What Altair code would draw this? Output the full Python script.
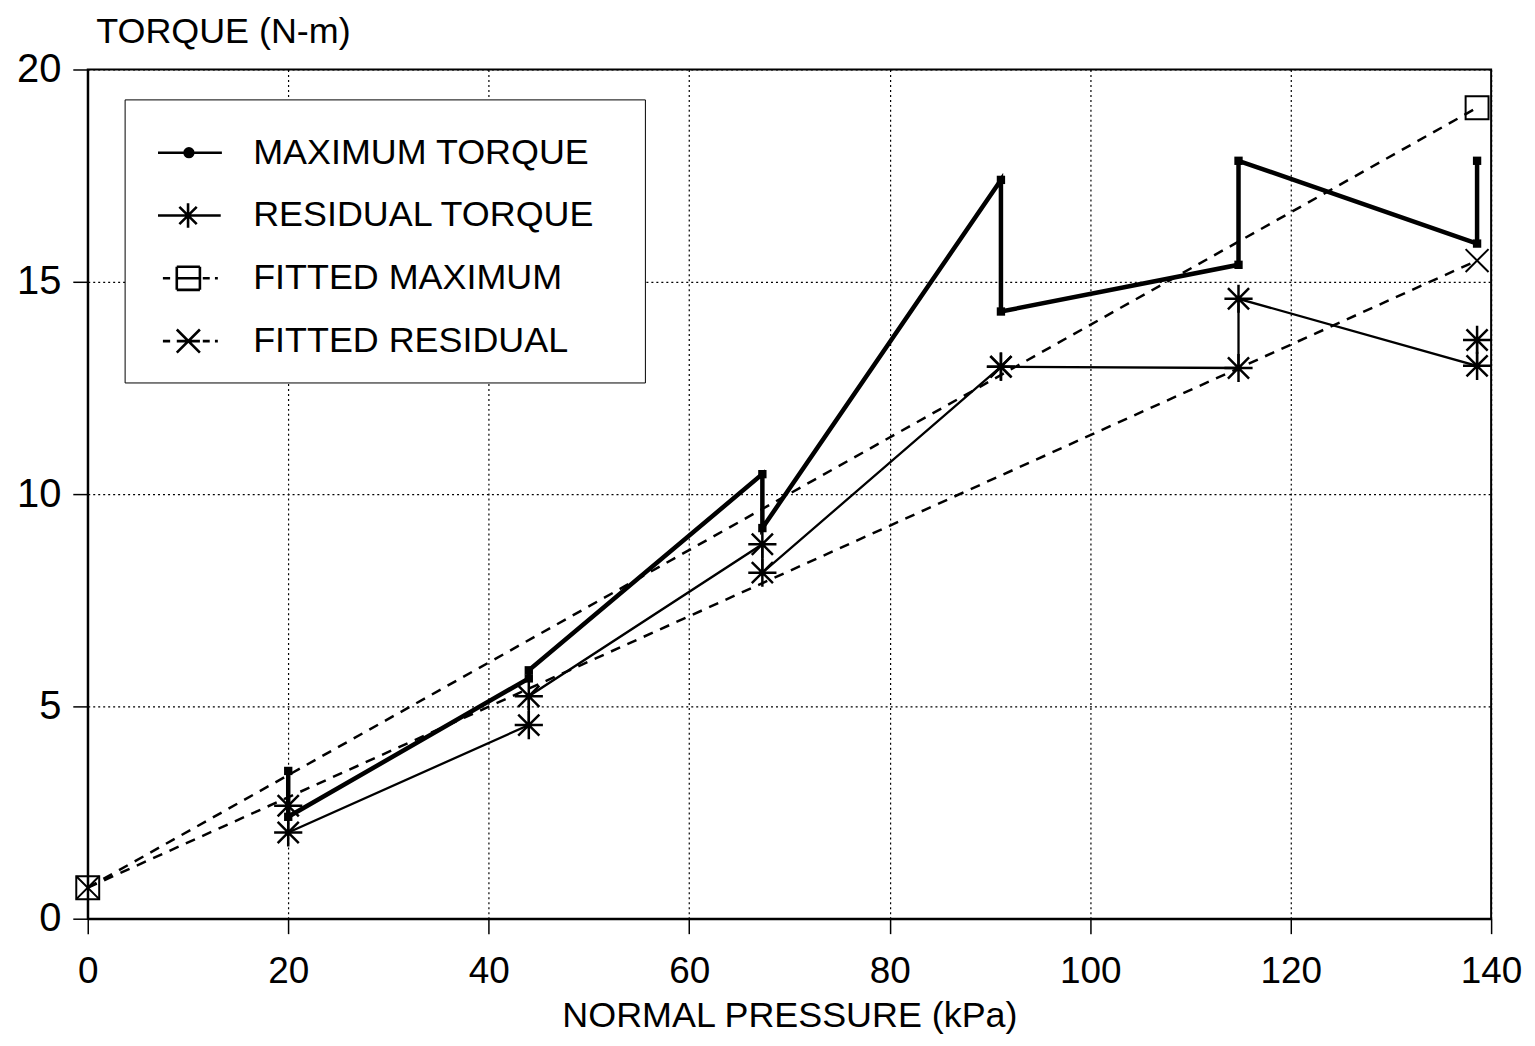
import altair as alt
import pandas as pd

# ---- data ----
max_x = [20, 20, 44, 44, 67.3, 67.3, 91.1, 91.1, 114.8, 114.8, 138.6, 138.6]
max_y = [3.48, 2.40, 5.66, 5.85, 10.47, 9.2, 17.4, 14.3, 15.4, 17.85, 15.9, 17.85]

res_x = [20, 20, 44, 44, 67.3, 67.3, 91.1, 91.1, 114.8, 114.8, 138.6, 138.6]
res_y = [2.66, 2.03, 4.56, 5.24, 8.82, 8.15, 13.0, 13.0, 12.97, 14.6, 13.02, 13.63]

fit_x = [0, 138.6]
fit_max_y = [0.73, 19.1]
fit_res_y = [0.73, 15.5]

series_names = ["MAXIMUM TORQUE", "RESIDUAL TORQUE", "FITTED MAXIMUM", "FITTED RESIDUAL"]

x_ticks = [0, 20, 40, 60, 80, 100, 120, 140]
y_ticks = [0, 5, 10, 15, 20]

max_df = pd.DataFrame({"x": max_x, "y": max_y, "seq": list(range(len(max_x)))})
res_df = pd.DataFrame({"x": res_x, "y": res_y, "seq": list(range(len(res_x)))})
fitmax_df = pd.DataFrame({"x": fit_x, "y": fit_max_y})
fitres_df = pd.DataFrame({"x": fit_x, "y": fit_res_y})
legend_df = pd.DataFrame({"series": series_names})

FONT = "Liberation Sans"

X = alt.X("x:Q", scale=alt.Scale(domain=[0, 140], nice=False, zero=False),
          axis=alt.Axis(values=x_ticks, title="NORMAL PRESSURE (kPa)", format="d",
                        grid=True, gridDash=[2, 3], gridColor="black", gridWidth=1.2, gridOpacity=1,
                        tickSize=15, tickColor="black", tickWidth=1.5,
                        domainColor="black", domainWidth=2, labelFlush=False,
                        labelFontSize=37, labelFont=FONT, labelColor="black", labelPadding=20,
                        titleFontSize=36, titleFont=FONT, titleColor="black", titleFontWeight="normal",
                        titleY=108, titleBaseline="alphabetic"))
Y = alt.Y("y:Q", scale=alt.Scale(domain=[0, 20], nice=False, zero=False),
          axis=alt.Axis(values=y_ticks, title="TORQUE (N-m)", format="d",
                        grid=True, gridDash=[2, 3], gridColor="black", gridWidth=1.2, gridOpacity=1,
                        tickSize=15, tickColor="black", tickWidth=1.5,
                        domainColor="black", domainWidth=2, labelFlush=False,
                        labelFontSize=40, labelFont=FONT, labelColor="black", labelPadding=12,
                        titleFontSize=36, titleFont=FONT, titleColor="black", titleFontWeight="normal",
                        titleAngle=0, titleAlign="left", titleBaseline="middle",
                        titleX=8, titleY=-38))

ASTERISK = "M-1,0L1,0M0,-1L0,1M-0.75,-0.75L0.75,0.75M-0.75,0.75L0.75,-0.75"
XMARK = "M-1,-1L1,1M-1,1L1,-1"


def circ(c, r):
    return f"M{c - r:.3f},0A{r},{r},0,1,1,{c + r:.3f},0A{r},{r},0,1,1,{c - r:.3f},0"


# legend symbol paths (1 unit = 29 px)
LEG_MAX = "M-0.69,0L1.52,0" + circ(0.38, 0.15) + circ(0.38, 0.10) + circ(0.38, 0.05)
LEG_RES = ("M-0.69,0L1.48,0M0.35,-0.42L0.35,0.42"
           "M0.05,-0.3L0.65,0.3M0.05,0.3L0.65,-0.3")
LEG_FMAX = ("M-0.52,0L-0.27,0M-0.04,-0.4L0.76,-0.4M0.76,-0.4L0.76,0.4M0.76,0.4L-0.04,0.4"
            "M-0.04,0.4L-0.04,-0.4M-0.04,0L0.76,0M0.86,0L1.10,0M1.28,0L1.38,0")
LEG_FRES = ("M-0.52,0L-0.27,0M-0.04,-0.4L0.76,0.4M-0.04,0.4L0.76,-0.4"
            "M-0.04,0L0.76,0M0.86,0L1.10,0M1.28,0L1.38,0")

fit_max_line = alt.Chart(fitmax_df).mark_line(color="black", strokeWidth=2.5, strokeDash=[10, 8]).encode(x=X, y=Y)
fit_res_line = alt.Chart(fitres_df).mark_line(color="black", strokeWidth=2.5, strokeDash=[10, 8]).encode(x=X, y=Y)
fit_max_pts = alt.Chart(fitmax_df).mark_point(shape="square", size=529, filled=False, color="black",
                                              strokeWidth=2, opacity=1).encode(x=X, y=Y)
fit_res_pts = alt.Chart(fitres_df).mark_point(shape=XMARK, size=529, filled=False, color="black",
                                              strokeWidth=2, opacity=1).encode(x=X, y=Y)

max_line = alt.Chart(max_df).mark_line(color="black", strokeWidth=4.5).encode(
    x=X, y=Y, order="seq:Q")
max_pts = alt.Chart(max_df).mark_point(shape="square", size=70, filled=True, color="black",
                                       opacity=1).encode(x=X, y=Y)

res_line = alt.Chart(res_df).mark_line(color="black", strokeWidth=2.3).encode(
    x=X, y=Y, order="seq:Q")
res_pts = alt.Chart(res_df).mark_point(shape=ASTERISK, size=800, filled=False, color="black",
                                       strokeWidth=2.5, opacity=1).encode(x=X, y=Y)

legend_layer = alt.Chart(legend_df).transform_filter("false").mark_point(
    color="black", filled=False, opacity=1).encode(
    shape=alt.Shape("series:N",
                    scale=alt.Scale(domain=series_names, range=[LEG_MAX, LEG_RES, LEG_FMAX, LEG_FRES]),
                    legend=alt.Legend(title=None, orient="none", legendX=37, legendY=30,
                                      padding=23, symbolSize=3364, symbolStrokeWidth=2.6,
                                      symbolStrokeColor="black",
                                      symbolOpacity=1, rowPadding=14,
                                      labelFont=FONT, labelFontSize=36, labelColor="black",
                                      labelOffset=45, labelLimit=800,
                                      labelExpr="datum.label + '\u2800'",
                                      strokeColor="black", fillColor="white"))
)

chart = alt.layer(
    fit_max_line, fit_res_line, max_line, res_line,
    fit_max_pts, fit_res_pts, max_pts, res_pts, legend_layer
).properties(
    width=1408, height=852,
    padding={"left": 80, "top": 60, "right": 36, "bottom": 118},
    autosize=alt.AutoSizeParams(type="none"),
    background="white",
).configure_view(stroke="black", strokeWidth=2)

chart.save("out.html", embed_options={"renderer": "svg", "actions": False})
